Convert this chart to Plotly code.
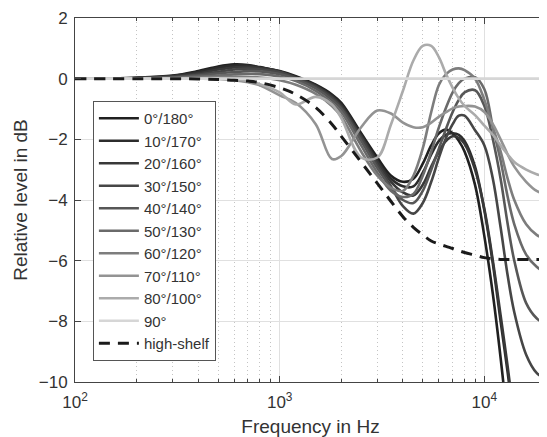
import plotly.graph_objects as go

freq = [100, 200, 300, 400, 500, 600, 700, 800, 1000, 1200, 1500, 1800, 2000, 2500,
        3000, 3500, 4000, 4500, 5000, 5500, 6000, 6500, 7000, 7500, 8000, 9000,
        10000, 11000, 12000, 13000, 14000, 16000, 18000, 20000]

labels = ["0°/180°", "10°/170°", "20°/160°", "30°/150°", "40°/140°", "50°/130°",
          "60°/120°", "70°/110°", "80°/100°", "90°"]

lvl_0 = [0, 0.03, 0.1, 0.25, 0.4, 0.47, 0.45, 0.38, 0.25, 0.08, -0.2, -0.52, -0.8, -1.8,
         -2.6, -3.2, -3.4, -3.3, -2.8, -2.2, -1.8, -1.68, -1.8, -2.05, -2.4, -3.5,
         -5.2, -7.1, -9.2, -11.4, None, None, None, None]
lvl_10 = [0, 0.03, 0.09, 0.22, 0.36, 0.43, 0.43, 0.37, 0.24, 0.06, -0.22, -0.56, -0.85, -1.85,
          -2.7, -3.3, -3.55, -3.55, -3.1, -2.5, -2.05, -1.85, -1.8, -1.85, -2.05, -2.9,
          -4.35, -6.1, -8.0, -9.7, -11.5, None, None, None]
lvl_20 = [0, 0.02, 0.08, 0.18, 0.3, 0.37, 0.39, 0.35, 0.23, 0.04, -0.24, -0.6, -0.9, -1.9,
          -2.75, -3.4, -3.75, -3.85, -3.5, -2.9, -2.4, -2.05, -1.9, -1.95, -2.15, -3.0,
          -4.3, -6.0, -7.8, -9.5, -11.3, None, None, None]
lvl_30 = [0, 0.02, 0.06, 0.14, 0.23, 0.3, 0.33, 0.31, 0.21, 0.02, -0.27, -0.64, -0.95, -1.95,
          -2.85, -3.55, -4.2, -4.45, -4.1, -3.4, -2.6, -1.95, -1.5, -1.22, -1.22, -1.7,
          -2.2, -3.3, -4.9, -6.5, -7.7, -9.1, -9.7, -9.9]
lvl_40 = [0, 0.01, 0.04, 0.1, 0.17, 0.22, 0.25, 0.24, 0.15, -0.02, -0.32, -0.7, -1.0, -2.05,
          -2.95, -3.6, -4.0, -4.1, -3.7, -3.0, -2.3, -1.65, -1.1, -0.7, -0.45, -0.38,
          -0.9, -2.0, -3.3, -4.8, -6.0, -7.4, -7.9, -8.1]
lvl_50 = [0, 0.01, 0.03, 0.06, 0.1, 0.14, 0.16, 0.15, 0.07, -0.08, -0.4, -0.8, -1.1, -2.2,
          -3.1, -3.7, -3.9, -3.8, -3.2, -2.4, -1.6, -0.95, -0.45, -0.15, 0.0, 0.05,
          -0.35, -1.6, -2.7, -3.9, -4.8, -5.8, -6.2, -6.4]
lvl_60 = [0, 0.0, 0.01, 0.03, 0.05, 0.06, 0.06, 0.04, -0.05, -0.2, -0.5, -0.9, -1.25, -2.4,
          -3.2, -3.6, -3.7, -3.2, -2.3, -1.1, -0.2, 0.15, 0.3, 0.34, 0.28, 0.0,
          -0.7, -1.6, -2.4, -3.3, -4.0, -4.8, -5.15, -5.3]
lvl_70 = [0, 0.0, 0.0, 0.0, -0.01, -0.05, -0.12, -0.22, -0.55, -0.8, -1.5, -2.65, -2.55, -1.6,
          -1.05, -1.15, -1.45, -1.6, -1.6, -1.45, -1.25, -1.1, -0.98, -0.92, -0.9, -0.92,
          -1.1, -1.5, -2.0, -2.5, -2.9, -3.4, -3.7, -3.8]
lvl_80 = [0, 0.0, 0.0, 0.0, 0.0, -0.02, -0.08, -0.18, -0.45, -0.85, -0.6, -0.85, -1.3, -2.6,
          -2.6, -1.5, -0.4, 0.6, 1.08, 1.08, 0.7, 0.15, -0.3, -0.65, -0.9, -1.2,
          -1.55, -1.85, -2.2, -2.5, -2.75, -3.0, -3.15, -3.24]
lvl_90 = [0] * len(freq)
shelf = [0, 0, 0, -0.01, -0.03, -0.05, -0.08, -0.13, -0.3, -0.52, -0.95, -1.5, -1.9, -2.75,
         -3.45, -4.05, -4.55, -4.9, -5.15, -5.35, -5.45, -5.53, -5.6, -5.67, -5.73, -5.82,
         -5.9, -5.94, -5.96, -5.96, -5.96, -5.96, -5.96, -5.96]

series = [lvl_0, lvl_10, lvl_20, lvl_30, lvl_40, lvl_50, lvl_60, lvl_70, lvl_80, lvl_90]
colors = ["#202020", "#2c2c2c", "#383838", "#464646", "#575757", "#6a6a6a",
          "#7d7d7d", "#939393", "#ababab", "#d6d6d6"]

fig = go.Figure()
for lab, vals, col in zip(labels, series, colors):
    fig.add_trace(go.Scatter(x=freq, y=vals, mode="lines", name=lab,
                             line=dict(color=col, width=2.6, shape="spline", smoothing=1),
                             connectgaps=False))
fig.add_trace(go.Scatter(x=freq, y=shelf, mode="lines", name="high-shelf",
                         line=dict(color="#1a1a1a", width=3, dash="11px,8px",
                                   shape="spline", smoothing=1)))

minor_vals = [m * d for d in (100, 1000, 10000) for m in range(2, 10) if m * d <= 20000]

axis_col = "#444444"
txt_col = "#333333"
fig.update_xaxes(type="log", range=[2, 4.30103], automargin=False,
                 tickvals=[100, 1000, 10000],
                 ticktext=["10<sup>2</sup>", "10<sup>3</sup>", "10<sup>4</sup>"],
                 ticks="inside", ticklen=6, tickcolor=axis_col, ticklabelstandoff=5,
                 showline=True, linecolor=axis_col, linewidth=1, mirror="ticks",
                 showgrid=True, gridcolor="#e0e0e0", gridwidth=1,
                 minor=dict(tickvals=minor_vals, ticks="inside", ticklen=3, tickcolor=axis_col,
                            showgrid=True, gridcolor="#c4c4c4", griddash="1px,3px", gridwidth=1),
                 zeroline=False,
                 title=dict(text="Frequency in Hz", font=dict(size=19, color=txt_col), standoff=16),
                 tickfont=dict(size=17, color=txt_col))
fig.update_yaxes(range=[-10, 2], tickvals=[-10, -8, -6, -4, -2, 0, 2], automargin=False,
                 ticks="inside", ticklen=6, tickcolor=axis_col, ticklabelstandoff=3,
                 showline=True, linecolor=axis_col, linewidth=1, mirror="ticks",
                 showgrid=True, gridcolor="#e0e0e0", gridwidth=1, zeroline=False,
                 title=dict(text="Relative level in dB", font=dict(size=19, color=txt_col), standoff=6),
                 tickfont=dict(size=17, color=txt_col))

# page body adds ~8px offset; figure sized to compensate
fig.update_layout(
    width=539, height=429,
    margin=dict(l=67, r=1, t=10, b=55, autoexpand=False),
    paper_bgcolor="white", plot_bgcolor="white",
    font=dict(family="Liberation Sans, Arial, sans-serif", color=txt_col),
    showlegend=True,
    legend=dict(x=0.038, y=0.772, xanchor="left", yanchor="top",
                bgcolor="white", bordercolor="#555555", borderwidth=1,
                font=dict(size=15, color=txt_col), itemwidth=40,
                tracegroupgap=0),
)

fig.write_html("out.html")
